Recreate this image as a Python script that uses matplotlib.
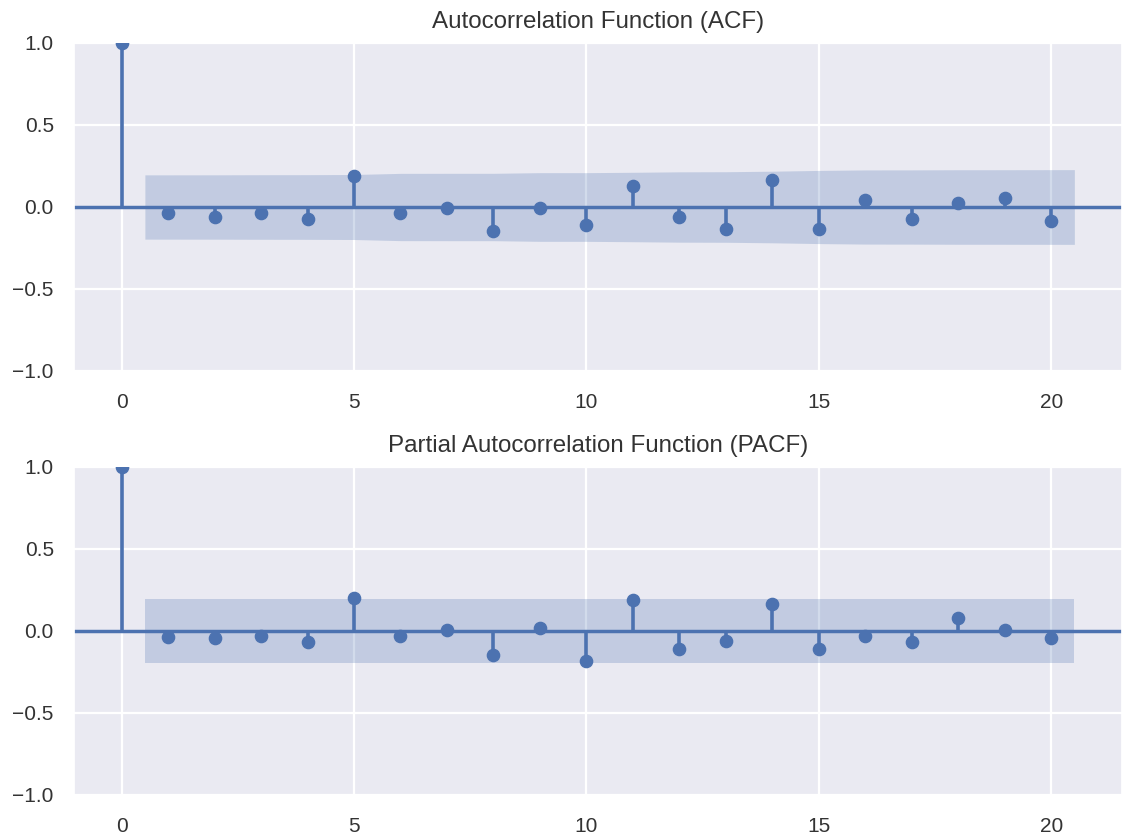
import numpy as np
import matplotlib
matplotlib.use("Agg")
import matplotlib.pyplot as plt
import seaborn as sns

sns.set_theme(style="darkgrid")
plt.rcParams["font.family"] = ["Liberation Sans", "DejaVu Sans"]

# Sample size behind the correlation estimates
nobs = 100
z_crit = 1.96

lags = np.arange(0, 21)

acf_values = [1.0, -0.035, -0.059, -0.037, -0.073, 0.190, -0.037, -0.006, -0.148,
              -0.006, -0.110, 0.126, -0.059, -0.134, 0.165, -0.134, 0.041,
              -0.071, 0.026, 0.053, -0.085]

pacf_values = [1.0, -0.035, -0.045, -0.033, -0.069, 0.203, -0.033, 0.006, -0.144,
               0.018, -0.181, 0.189, -0.108, -0.059, 0.165, -0.108, -0.030,
               -0.069, 0.079, 0.006, -0.045]

titles = ["Autocorrelation Function (ACF)", "Partial Autocorrelation Function (PACF)"]

color = "#4C72B0"
text_color = "#333333"

acf = np.asarray(acf_values)
pacf = np.asarray(pacf_values)

# Bartlett standard errors for the ACF, constant 1/sqrt(n) for the PACF
acf_var = np.ones(len(lags)) / nobs
acf_var[2:] *= 1 + 2 * np.cumsum(acf[1:-1] ** 2)
acf_band = z_crit * np.sqrt(acf_var)[1:]
pacf_band = np.full(len(lags) - 1, z_crit / np.sqrt(nobs))

fig = plt.figure(figsize=(11.22, 8.34), dpi=100)
W, H = 1122, 834
ax_top = fig.add_axes([74 / W, (H - 371) / H, 1048 / W, 328 / H])
ax_bot = fig.add_axes([74 / W, (H - 795) / H, 1048 / W, 328 / H])


def draw_corr(ax, vals, band, title):
    band_x = lags[1:].astype(float)
    band_x[0] -= 0.5
    band_x[-1] += 0.5
    ax.fill_between(band_x, -band, band, color=color, alpha=0.25, linewidth=0, zorder=1)
    ax.axhline(0, color=color, linewidth=2.5, zorder=2)
    ax.vlines(lags, 0, vals, color=color, linewidth=2.6, zorder=2)
    ax.plot(lags, vals, marker="o", linestyle="None", markersize=8.8,
            color=color, zorder=3)
    ax.set_ylim(-1, 1)
    ax.margins(x=0.05)
    ax.set_yticks([-1.0, -0.5, 0.0, 0.5, 1.0])
    ax.set_xticks([0, 5, 10, 15, 20])
    ax.grid(True, color="white", linewidth=1.6)
    ax.tick_params(labelsize=15, colors=text_color)
    ax.tick_params(axis="x", pad=10)
    ax.tick_params(axis="y", pad=8.5)
    ax.set_title(title, fontsize=17.4, color=text_color, pad=10.5)


draw_corr(ax_top, acf, acf_band, titles[0])
draw_corr(ax_bot, pacf, pacf_band, titles[1])

fig.savefig("out.png", dpi=100)
